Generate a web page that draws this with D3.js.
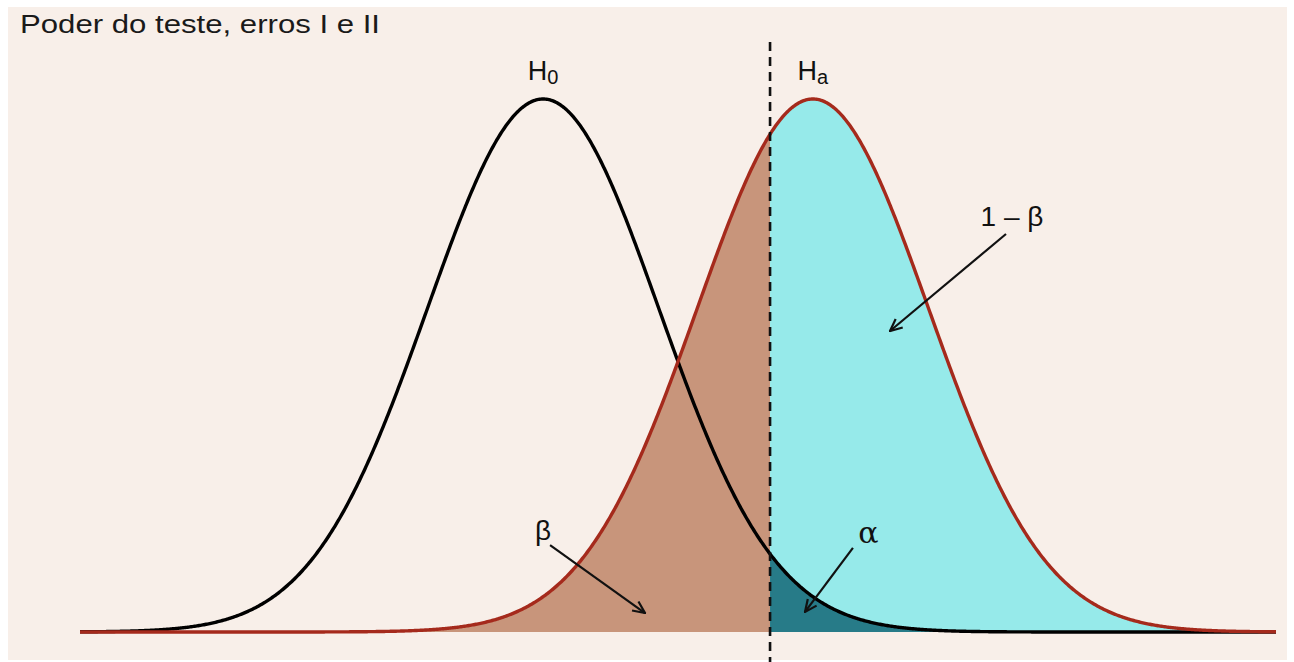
<!DOCTYPE html>
<html>
<head>
<meta charset="utf-8">
<script src="https://cdn.jsdelivr.net/npm/d3@7"></script>
<style>
  body { margin: 0; background: #ffffff; }
  svg { display: block; font-family: "Liberation Sans", Arial, sans-serif; }
</style>
</head>
<body>
<div id="chart"></div>
<script>
var WIDTH = 1294;
var HEIGHT = 662;

// distributions (standardised units)
var MEANS = [0, 2.33];          // H0, Ha
var SDS = [1, 1];
var CRITICAL = 1.96;
var X_DOMAIN = [-4, 6.33];
var SUBSCRIPTS = ["0", "a"];

// annotation labels: [text, labelX, labelY, arrowFromX, arrowFromY, arrowToX, arrowToY]
var NOTES = [
    ["\u03B2", 0.0, 0.0689, 0.06, 0.0651, 0.88, 0.0142],
    ["\u03B1", 2.81, 0.0666, 2.676, 0.0629, 2.262, 0.0150],
    ["1 \u2013 \u03B2", 4.05, 0.3039, 3.998, 0.2979, 2.996, 0.2253]
];

function dnorm(x, m, s) {
    return Math.exp(-0.5 * Math.pow((x - m) / s, 2)) / (s * Math.sqrt(2 * Math.PI));
}

function init() {
    var svg = d3.select("#chart").append("svg")
        .attr("width", WIDTH).attr("height", HEIGHT);

    var defs = svg.append("defs");
    defs.append("marker")
        .attr("id", "head")
        .attr("viewBox", "0 0 14 14")
        .attr("refX", 13).attr("refY", 7)
        .attr("markerWidth", 14).attr("markerHeight", 14)
        .attr("markerUnits", "userSpaceOnUse")
        .attr("orient", "auto")
      .append("path")
        .attr("d", "M1,1.5 L13,7 L1,12.5")
        .attr("fill", "none")
        .attr("stroke", "#111")
        .attr("stroke-width", 2.2);

    // panel
    svg.append("rect")
        .attr("x", 8).attr("y", 7)
        .attr("width", 1279).attr("height", 653)
        .attr("fill", "#f8efe9");

    svg.append("text")
        .attr("x", 20).attr("y", 33)
        .attr("font-size", 26)
        .attr("textLength", 360)
        .attr("lengthAdjust", "spacingAndGlyphs")
        .attr("fill", "#1a1a1a")
        .text("Poder do teste, erros I e II");

    var peak = dnorm(0, 0, 1);
    var x = d3.scaleLinear().domain(X_DOMAIN).range([80, 1276]);
    var y = d3.scaleLinear().domain([0, peak]).range([632, 99]);

    var grid = d3.range(X_DOMAIN[0], X_DOMAIN[1] + 0.0001, 0.01);
    grid.push(CRITICAL);
    grid.sort(d3.ascending);

    var area = function(m, s, lo, hi) {
        var pts = grid.filter(function(v) { return v >= lo && v <= hi; });
        return d3.area()
            .x(function(d) { return x(d); })
            .y0(y(0))
            .y1(function(d) { return y(dnorm(d, m, s)); })(pts);
    };

    // beta
    svg.append("path")
        .attr("d", area(MEANS[1], SDS[1], X_DOMAIN[0], CRITICAL))
        .attr("fill", "#c8957b");
    // power
    svg.append("path")
        .attr("d", area(MEANS[1], SDS[1], CRITICAL, X_DOMAIN[1]))
        .attr("fill", "#96eaea");
    // alpha
    svg.append("path")
        .attr("d", area(MEANS[0], SDS[0], CRITICAL, X_DOMAIN[1]))
        .attr("fill", "#277b88");

    var line = function(m, s) {
        return d3.line()
            .x(function(d) { return x(d); })
            .y(function(d) { return y(dnorm(d, m, s)); })(grid);
    };

    svg.append("path")
        .attr("d", line(MEANS[0], SDS[0]))
        .attr("fill", "none")
        .attr("stroke", "#000")
        .attr("stroke-width", 3.4);

    svg.append("path")
        .attr("d", line(MEANS[1], SDS[1]))
        .attr("fill", "none")
        .attr("stroke", "#a52a1c")
        .attr("stroke-width", 3.4);

    // critical value
    svg.append("line")
        .attr("x1", x(CRITICAL)).attr("x2", x(CRITICAL))
        .attr("y1", 42).attr("y2", 662)
        .attr("stroke", "#111")
        .attr("stroke-width", 2.6)
        .attr("stroke-dasharray", "9,6");

    // curve names
    var lbl = svg.selectAll("text.name").data(MEANS).enter().append("text")
        .attr("class", "name")
        .attr("x", function(d) { return x(d); })
        .attr("y", y(peak) - 19)
        .attr("text-anchor", "middle")
        .attr("font-size", 27)
        .attr("fill", "#111");
    lbl.append("tspan").text("H");
    lbl.append("tspan")
        .attr("font-size", 20)
        .attr("dy", 4)
        .text(function(d, i) { return SUBSCRIPTS[i]; });

    // annotations
    var notes = svg.selectAll("g.note").data(NOTES).enter().append("g").attr("class", "note");
    notes.append("text")
        .attr("x", function(d) { return x(d[1]); })
        .attr("y", function(d) { return y(d[2]); })
        .attr("text-anchor", "middle")
        .attr("font-size", function(d, i) { return i === 1 ? 30 : 28; })
        .attr("font-family", function(d, i) { return i === 1 ? "'DejaVu Serif', serif" : null; })
        .attr("fill", "#111")
        .text(function(d) { return d[0]; });
    notes.append("line")
        .attr("x1", function(d) { return x(d[3]); })
        .attr("y1", function(d) { return y(d[4]); })
        .attr("x2", function(d) { return x(d[5]); })
        .attr("y2", function(d) { return y(d[6]); })
        .attr("stroke", "#111")
        .attr("stroke-width", 2.2)
        .attr("marker-end", "url(#head)");
}

init();
</script>
</body>
</html>
